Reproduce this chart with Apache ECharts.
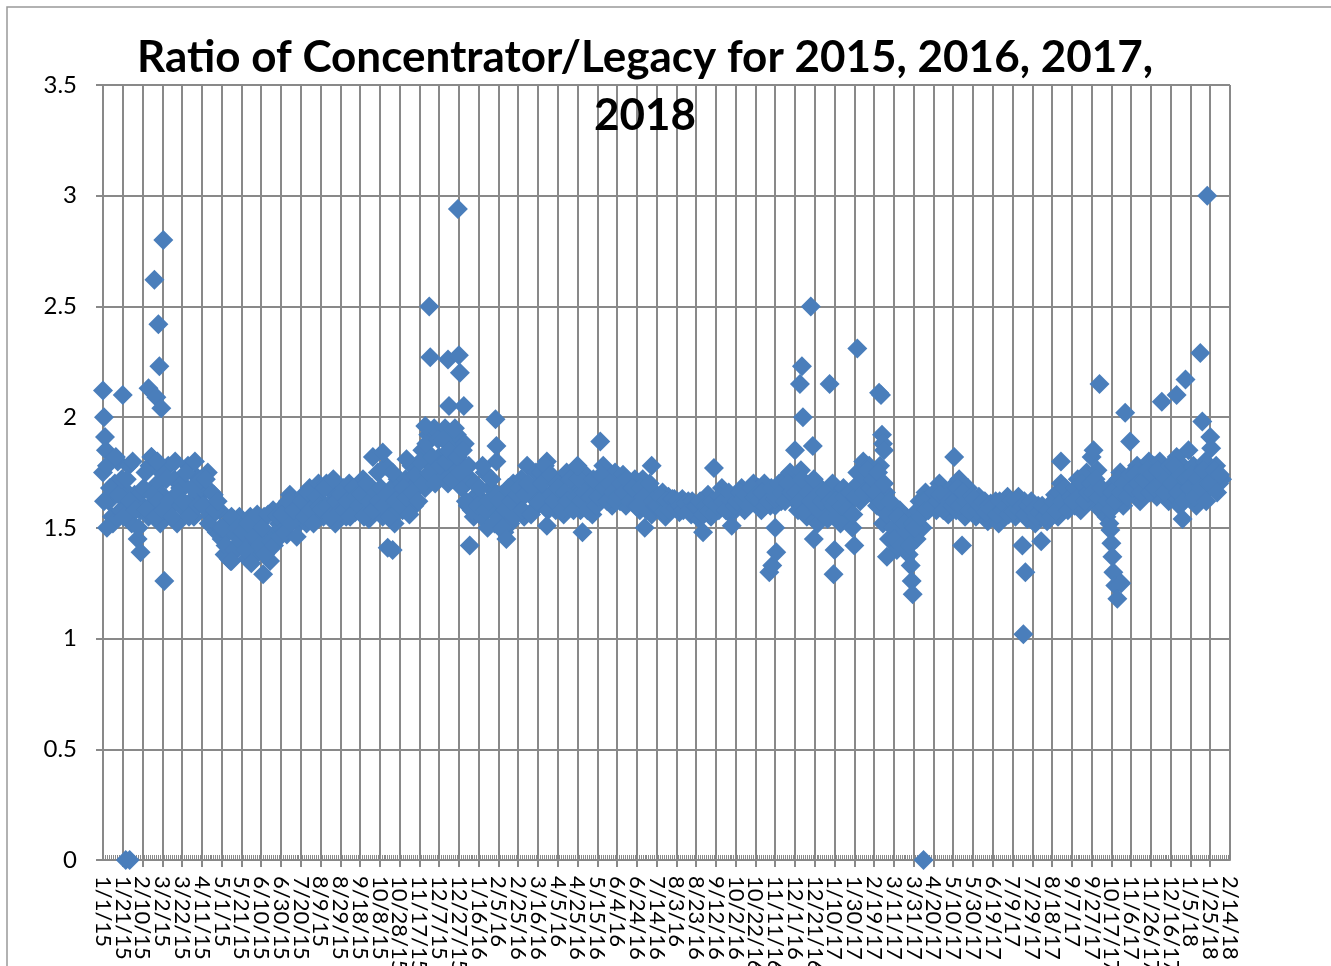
<!DOCTYPE html>
<html>
<head>
<meta charset="utf-8">
<title>Ratio of Concentrator/Legacy</title>
<script src="https://cdn.jsdelivr.net/npm/echarts@6/dist/echarts.min.js"></script>
<style>
  html, body { margin: 0; padding: 0; background: #fff; }
  #chart { width: 1331px; height: 966px; }
</style>
</head>
<body>
<div id="chart"></div>
<script>
// x tick labels, one every 20 days starting 1/1/15
const tickLabels = [
  '1/1/15', '1/21/15', '2/10/15', '3/2/15', '3/22/15', '4/11/15', '5/1/15', '5/21/15',
  '6/10/15', '6/30/15', '7/20/15', '8/9/15', '8/29/15', '9/18/15', '10/8/15', '10/28/15',
  '11/17/15', '12/7/15', '12/27/15', '1/16/16', '2/5/16', '2/25/16', '3/16/16', '4/5/16',
  '4/25/16', '5/15/16', '6/4/16', '6/24/16', '7/14/16', '8/3/16', '8/23/16', '9/12/16',
  '10/2/16', '10/22/16', '11/11/16', '12/1/16', '12/21/16', '1/10/17', '1/30/17', '2/19/17',
  '3/11/17', '3/31/17', '4/20/17', '5/10/17', '5/30/17', '6/19/17', '7/9/17', '7/29/17',
  '8/18/17', '9/7/17', '9/27/17', '10/17/17', '11/6/17', '11/26/17', '12/16/17', '1/5/18',
  '1/25/18', '2/14/18'
]

// day offset from 1/1/15 and ratio for the main cloud of readings (one row per 20 days)
const bandDays = [
  0, 3, 6, 9, 12, 15, 18,
  20, 23, 26, 29, 32, 35, 38,
  40, 43, 46, 49, 52, 55, 58,
  60, 63, 66, 69, 72, 75, 78,
  80, 83, 86, 89, 92, 95, 98,
  100, 103, 106, 109, 112, 115, 118,
  120, 123, 126, 129, 132, 135, 138,
  140, 143, 146, 149, 152, 155, 158,
  160, 163, 166, 169, 172, 175, 178,
  180, 183, 186, 189, 192, 195, 198,
  200, 203, 206, 209, 212, 215, 218,
  220, 223, 226, 229, 232, 235, 238,
  240, 243, 246, 249, 252, 255, 258,
  260, 263, 266, 269, 272, 275, 278,
  280, 283, 286, 289, 292, 295, 298,
  300, 303, 306, 309, 312, 315, 318,
  320, 323, 326, 329, 332, 335, 338,
  340, 343, 346, 349, 352, 355, 358,
  360, 363, 366, 369, 372, 375, 378,
  380, 383, 386, 389, 392, 395, 398,
  400, 403, 406, 409, 412, 415, 418,
  420, 423, 426, 429, 432, 435, 438,
  440, 443, 446, 449, 452, 455, 458,
  460, 463, 466, 469, 472, 475, 478,
  480, 483, 486, 489, 492, 495, 498,
  500, 503, 506, 509, 512, 515, 518,
  520, 523, 526, 529, 532, 535, 538,
  540, 543, 546, 549, 552, 555, 558,
  560, 563, 566, 569, 572, 575, 578,
  580, 583, 586, 589, 592, 595, 598,
  600, 603, 606, 609, 612, 615, 618,
  620, 623, 626, 629, 632, 635, 638,
  640, 643, 646, 649, 652, 655, 658,
  660, 663, 666, 669, 672, 675, 678,
  680, 683, 686, 689, 692, 695, 698,
  700, 703, 706, 709, 712, 715, 718,
  720, 723, 726, 729, 732, 735, 738,
  740, 743, 746, 749, 752, 755, 758,
  760, 763, 766, 769, 772, 775, 778,
  780, 783, 786, 789, 792, 795, 798,
  800, 803, 806, 809, 812, 815, 818,
  820, 823, 826, 829, 832, 835, 838,
  840, 843, 846, 849, 852, 855, 858,
  860, 863, 866, 869, 872, 875, 878,
  880, 883, 886, 889, 892, 895, 898,
  900, 903, 906, 909, 912, 915, 918,
  920, 923, 926, 929, 932, 935, 938,
  940, 943, 946, 949, 952, 955, 958,
  960, 963, 966, 969, 972, 975, 978,
  980, 983, 986, 989, 992, 995, 998,
  1000, 1003, 1006, 1009, 1012, 1015, 1018,
  1020, 1023, 1026, 1029, 1032, 1035, 1038,
  1040, 1043, 1046, 1049, 1052, 1055, 1058,
  1060, 1063, 1066, 1069, 1072, 1075, 1078,
  1080, 1083, 1086, 1089, 1092, 1095, 1098,
  1100, 1103, 1106, 1109, 1112, 1115, 1118,
  1120, 1123, 1126, 1129, 1132
]
const bandRatio = [
  1.75, 1.85, 1.62, 1.55, 1.70, 1.80, 1.58,
  1.68, 1.60, 1.78, 1.52, 1.65, 1.45, 1.58,
  1.60, 1.75, 1.55, 1.82, 1.62, 1.70, 1.52,
  1.65, 1.55, 1.78, 1.60, 1.72, 1.52, 1.68,
  1.70, 1.58, 1.78, 1.62, 1.55, 1.73, 1.65,
  1.68, 1.60, 1.75, 1.55, 1.65, 1.48, 1.58,
  1.45, 1.38, 1.52, 1.35, 1.48, 1.40, 1.55,
  1.42, 1.50, 1.36, 1.55, 1.45, 1.38, 1.52,
  1.40, 1.55, 1.45, 1.35, 1.58, 1.48, 1.52,
  1.50, 1.60, 1.47, 1.65, 1.55, 1.62, 1.52,
  1.58, 1.65, 1.52, 1.68, 1.60, 1.55, 1.70,
  1.62, 1.55, 1.70, 1.58, 1.66, 1.52, 1.64,
  1.60, 1.68, 1.55, 1.70, 1.62, 1.57, 1.66,
  1.58, 1.72, 1.62, 1.54, 1.68, 1.60, 1.75,
  1.62, 1.55, 1.78, 1.60, 1.68, 1.52, 1.72,
  1.65, 1.58, 1.72, 1.62, 1.78, 1.60, 1.70,
  1.72, 1.85, 1.68, 1.92, 1.78, 1.95, 1.75,
  1.82, 1.75, 1.95, 1.70, 1.88, 1.78, 1.92,
  1.80, 1.68, 1.88, 1.60, 1.72, 1.55, 1.65,
  1.62, 1.55, 1.75, 1.50, 1.68, 1.58, 1.80,
  1.55, 1.65, 1.48, 1.60, 1.52, 1.70, 1.58,
  1.60, 1.72, 1.55, 1.78, 1.65, 1.58, 1.75,
  1.68, 1.75, 1.60, 1.80, 1.65, 1.72, 1.58,
  1.62, 1.70, 1.56, 1.75, 1.60, 1.66, 1.72,
  1.65, 1.58, 1.75, 1.62, 1.70, 1.56, 1.68,
  1.70, 1.62, 1.78, 1.66, 1.72, 1.60, 1.75,
  1.68, 1.62, 1.74, 1.60, 1.70, 1.65, 1.72,
  1.65, 1.58, 1.72, 1.62, 1.68, 1.56, 1.66,
  1.62, 1.58, 1.66, 1.55, 1.64, 1.60, 1.63,
  1.60, 1.57, 1.63, 1.59, 1.62, 1.56, 1.61,
  1.58, 1.54, 1.62, 1.57, 1.65, 1.55, 1.60,
  1.62, 1.58, 1.68, 1.60, 1.65, 1.56, 1.64,
  1.64, 1.60, 1.68, 1.58, 1.66, 1.62, 1.70,
  1.62, 1.68, 1.58, 1.70, 1.64, 1.60, 1.66,
  1.60, 1.68, 1.62, 1.72, 1.65, 1.75, 1.63,
  1.70, 1.58, 1.76, 1.62, 1.55, 1.68, 1.60,
  1.60, 1.52, 1.68, 1.56, 1.65, 1.58, 1.70,
  1.58, 1.65, 1.52, 1.68, 1.55, 1.62, 1.50,
  1.68, 1.75, 1.62, 1.80, 1.70, 1.78, 1.65,
  1.72, 1.60, 1.78, 1.52, 1.66, 1.45, 1.58,
  1.50, 1.40, 1.58, 1.45, 1.55, 1.38, 1.48,
  1.55, 1.45, 1.62, 1.50, 1.66, 1.58, 1.63,
  1.62, 1.58, 1.70, 1.60, 1.66, 1.56, 1.68,
  1.65, 1.58, 1.72, 1.62, 1.55, 1.68, 1.60,
  1.60, 1.55, 1.64, 1.58, 1.62, 1.53, 1.61,
  1.58, 1.62, 1.52, 1.60, 1.55, 1.64, 1.57,
  1.60, 1.55, 1.64, 1.58, 1.62, 1.54, 1.59,
  1.56, 1.52, 1.60, 1.55, 1.58, 1.53, 1.57,
  1.58, 1.65, 1.55, 1.70, 1.60, 1.66, 1.62,
  1.65, 1.60, 1.72, 1.58, 1.68, 1.75, 1.62,
  1.70, 1.62, 1.76, 1.58, 1.65, 1.55, 1.52,
  1.62, 1.70, 1.65, 1.75, 1.60, 1.72, 1.68,
  1.72, 1.65, 1.78, 1.62, 1.75, 1.68, 1.80,
  1.70, 1.78, 1.64, 1.80, 1.68, 1.74, 1.62,
  1.75, 1.65, 1.82, 1.60, 1.78, 1.70, 1.85,
  1.68, 1.78, 1.60, 1.75, 1.65, 1.80, 1.72,
  1.75, 1.68, 1.78, 1.70, 1.72
]

// readings on the days in between
const bandDays2 = [
  1, 4, 7, 10, 13, 16, 19,
  21, 24, 27, 30, 33, 36, 39,
  41, 44, 47, 50, 53, 56, 59,
  61, 64, 67, 70, 73, 76, 79,
  81, 84, 87, 90, 93, 96, 99,
  101, 104, 107, 110, 113, 116, 119,
  121, 124, 127, 130, 133, 136, 139,
  141, 144, 147, 150, 153, 156, 159,
  161, 164, 167, 170, 173, 176, 179,
  181, 184, 187, 190, 193, 196, 199,
  201, 204, 207, 210, 213, 216, 219,
  221, 224, 227, 230, 233, 236, 239,
  241, 244, 247, 250, 253, 256, 259,
  261, 264, 267, 270, 273, 276, 279,
  281, 284, 287, 290, 293, 296, 299,
  301, 304, 307, 310, 313, 316, 319,
  321, 324, 327, 330, 333, 336, 339,
  341, 344, 347, 350, 353, 356, 359,
  361, 364, 367, 370, 373, 376, 379,
  381, 384, 387, 390, 393, 396, 399,
  401, 404, 407, 410, 413, 416, 419,
  421, 424, 427, 430, 433, 436, 439,
  441, 444, 447, 450, 453, 456, 459,
  461, 464, 467, 470, 473, 476, 479,
  481, 484, 487, 490, 493, 496, 499,
  501, 504, 507, 510, 513, 516, 519,
  521, 524, 527, 530, 533, 536, 539,
  541, 544, 547, 550, 553, 556, 559,
  561, 564, 567, 570, 573, 576, 579,
  581, 584, 587, 590, 593, 596, 599,
  601, 604, 607, 610, 613, 616, 619,
  621, 624, 627, 630, 633, 636, 639,
  641, 644, 647, 650, 653, 656, 659,
  661, 664, 667, 670, 673, 676, 679,
  681, 684, 687, 690, 693, 696, 699,
  701, 704, 707, 710, 713, 716, 719,
  721, 724, 727, 730, 733, 736, 739,
  741, 744, 747, 750, 753, 756, 759,
  761, 764, 767, 770, 773, 776, 779,
  781, 784, 787, 790, 793, 796, 799,
  801, 804, 807, 810, 813, 816, 819,
  821, 824, 827, 830, 833, 836, 839,
  841, 844, 847, 850, 853, 856, 859,
  861, 864, 867, 870, 873, 876, 879,
  881, 884, 887, 890, 893, 896, 899,
  901, 904, 907, 910, 913, 916, 919,
  921, 924, 927, 930, 933, 936, 939,
  941, 944, 947, 950, 953, 956, 959,
  961, 964, 967, 970, 973, 976, 979,
  981, 984, 987, 990, 993, 996, 999,
  1001, 1004, 1007, 1010, 1013, 1016, 1019,
  1021, 1024, 1027, 1030, 1033, 1036, 1039,
  1041, 1044, 1047, 1050, 1053, 1056, 1059,
  1061, 1064, 1067, 1070, 1073, 1076, 1079,
  1081, 1084, 1087, 1090, 1093, 1096, 1099,
  1101, 1104, 1107, 1110, 1113, 1116, 1119,
  1121, 1124, 1127, 1130
]
const bandRatio2 = [
  1.62, 1.78, 1.68, 1.52, 1.82, 1.65, 1.72,
  1.55, 1.72, 1.62, 1.80, 1.58, 1.50, 1.66,
  1.68, 1.58, 1.78, 1.65, 1.55, 1.62, 1.75,
  1.58, 1.72, 1.62, 1.55, 1.80, 1.66, 1.60,
  1.62, 1.75, 1.55, 1.68, 1.80, 1.60, 1.72,
  1.60, 1.72, 1.52, 1.66, 1.58, 1.62, 1.50,
  1.50, 1.42, 1.36, 1.55, 1.40, 1.50, 1.44,
  1.48, 1.40, 1.52, 1.34, 1.46, 1.56, 1.42,
  1.50, 1.38, 1.56, 1.44, 1.42, 1.55, 1.46,
  1.56, 1.48, 1.62, 1.52, 1.58, 1.46, 1.60,
  1.62, 1.55, 1.66, 1.58, 1.52, 1.64, 1.60,
  1.58, 1.68, 1.60, 1.55, 1.72, 1.62, 1.57,
  1.65, 1.58, 1.62, 1.55, 1.68, 1.64, 1.60,
  1.65, 1.55, 1.70, 1.62, 1.58, 1.66, 1.62,
  1.68, 1.60, 1.65, 1.55, 1.75, 1.62, 1.58,
  1.60, 1.68, 1.64, 1.56, 1.66, 1.74, 1.62,
  1.80, 1.70, 1.88, 1.75, 1.82, 1.70, 1.90,
  1.78, 1.90, 1.80, 1.85, 1.72, 1.95, 1.82,
  1.75, 1.85, 1.62, 1.78, 1.58, 1.70, 1.60,
  1.68, 1.78, 1.58, 1.62, 1.72, 1.52, 1.65,
  1.62, 1.50, 1.58, 1.68, 1.62, 1.55, 1.65,
  1.68, 1.58, 1.65, 1.70, 1.56, 1.68, 1.62,
  1.62, 1.70, 1.78, 1.58, 1.74, 1.62, 1.70,
  1.68, 1.58, 1.66, 1.62, 1.72, 1.58, 1.64,
  1.72, 1.62, 1.66, 1.58, 1.64, 1.72, 1.60,
  1.64, 1.74, 1.68, 1.62, 1.70, 1.66, 1.62,
  1.64, 1.70, 1.66, 1.72, 1.62, 1.68, 1.60,
  1.60, 1.68, 1.64, 1.58, 1.70, 1.62, 1.60,
  1.60, 1.64, 1.57, 1.62, 1.58, 1.63, 1.59,
  1.62, 1.60, 1.58, 1.61, 1.58, 1.62, 1.60,
  1.60, 1.62, 1.56, 1.60, 1.58, 1.62, 1.57,
  1.60, 1.64, 1.62, 1.58, 1.66, 1.62, 1.60,
  1.62, 1.66, 1.63, 1.65, 1.60, 1.68, 1.64,
  1.65, 1.62, 1.66, 1.60, 1.62, 1.68, 1.63,
  1.64, 1.70, 1.66, 1.62, 1.70, 1.66, 1.68,
  1.66, 1.62, 1.72, 1.58, 1.66, 1.62, 1.72,
  1.64, 1.58, 1.62, 1.66, 1.54, 1.62, 1.60,
  1.62, 1.56, 1.60, 1.64, 1.58, 1.66, 1.56,
  1.64, 1.70, 1.74, 1.66, 1.76, 1.68, 1.72,
  1.66, 1.75, 1.62, 1.70, 1.56, 1.62, 1.50,
  1.45, 1.55, 1.42, 1.52, 1.48, 1.42, 1.52,
  1.50, 1.58, 1.55, 1.62, 1.58, 1.64, 1.60,
  1.66, 1.62, 1.65, 1.58, 1.64, 1.62, 1.60,
  1.62, 1.68, 1.60, 1.66, 1.62, 1.58, 1.64,
  1.63, 1.58, 1.60, 1.62, 1.57, 1.60, 1.58,
  1.60, 1.56, 1.62, 1.58, 1.60, 1.56, 1.62,
  1.57, 1.62, 1.58, 1.60, 1.56, 1.60, 1.62,
  1.58, 1.55, 1.57, 1.60, 1.55, 1.58, 1.55,
  1.62, 1.58, 1.66, 1.62, 1.68, 1.58, 1.64,
  1.62, 1.68, 1.64, 1.70, 1.62, 1.66, 1.70,
  1.66, 1.72, 1.64, 1.68, 1.60, 1.62, 1.58,
  1.66, 1.62, 1.72, 1.66, 1.70, 1.64, 1.74,
  1.68, 1.74, 1.70, 1.66, 1.72, 1.76, 1.66,
  1.74, 1.68, 1.76, 1.70, 1.66, 1.72, 1.78,
  1.70, 1.78, 1.66, 1.74, 1.62, 1.72, 1.68,
  1.74, 1.64, 1.72, 1.68, 1.76, 1.62, 1.70,
  1.70, 1.76, 1.66, 1.74
]

// isolated readings away from the cloud
const spikeDays = [
  0, 1, 2, 4, 20, 23, 27, 38, 46, 49, 52, 54, 55, 56, 57, 59, 61, 62,
  130, 162, 273, 283, 288, 293, 307,
  326, 330, 331, 349, 350, 359, 360, 361, 365, 371, 397, 398, 408, 449,
  480, 485, 503, 548, 555, 607, 618, 636, 674, 677, 680, 681,
  700, 705, 707, 708, 716, 718, 719, 735, 739, 740, 760, 763,
  785, 787, 788, 789, 790, 793, 817, 818, 819, 830, 861, 869,
  930, 931, 933, 949, 969, 1000, 1002, 1008, 1019, 1020, 1021, 1022, 1024, 1026, 1030,
  1034, 1039, 1071, 1086, 1092, 1095, 1110, 1112, 1117, 1120, 1121
]
const spikeRatio = [
  2.12, 2.00, 1.91, 1.50, 2.10, 0, 0, 1.39, 2.13, 1.82, 2.62, 2.09, 1.80, 2.42, 2.23, 2.04, 2.80, 1.26,
  1.35, 1.29, 1.82, 1.84, 1.41, 1.40, 1.81,
  1.96, 2.50, 2.27, 2.26, 2.05, 2.94, 2.28, 2.20, 2.05, 1.42, 1.99, 1.87, 1.45, 1.51,
  1.78, 1.48, 1.89, 1.50, 1.78, 1.48, 1.77, 1.51, 1.30, 1.33, 1.50, 1.39,
  1.85, 2.15, 2.23, 2.00, 2.50, 1.87, 1.45, 2.15, 1.29, 1.40, 1.42, 2.31,
  2.11, 2.10, 1.92, 1.88, 1.85, 1.37, 1.33, 1.26, 1.20, 0, 1.82, 1.42,
  1.42, 1.02, 1.30, 1.44, 1.80, 1.82, 1.85, 2.15, 1.49, 1.43, 1.37, 1.30, 1.24, 1.18, 1.25,
  2.02, 1.89, 2.07, 2.10, 1.54, 2.17, 2.29, 1.98, 3.00, 1.91, 1.86
]

const gridGray = '#898989'
const markerBlue = '#4A7EBB'
const dayMin = 0
const dayMax = 1140

const points = bandDays.map((d, i) => [d, bandRatio[i]])
  .concat(bandDays2.map((d, i) => [d, bandRatio2[i]]))
  .concat(spikeDays.map((d, i) => [d, spikeRatio[i]]))

const labelStyle = {
  rotate: -90,
  margin: 16,
  hideOverlap: false,
  fontFamily: 'Lato',
  fontSize: 22,
  color: '#000'
}

const chart = echarts.init(document.getElementById('chart'))

const option = {
  backgroundColor: '#fff',
  animation: false,
  title: {
    text: 'Ratio of Concentrator/Legacy for 2015, 2016, 2017,\n2018',
    left: 640,
    top: 24,
    textAlign: 'center',
    textStyle: {
      fontFamily: 'Lato',
      fontWeight: 'bold',
      fontSize: 44,
      lineHeight: 58,
      color: '#000'
    }
  },
  graphic: [
    {
      type: 'rect',
      shape: { x: 7, y: 7, width: 1340, height: 980 },
      style: { fill: 'none', stroke: '#999', lineWidth: 1.5 },
      silent: true
    }
  ],
  grid: {
    left: 103,
    right: 101,
    top: 85,
    bottom: 106,
    containLabel: false,
    outerBoundsMode: 'none'
  },
  xAxis: [
    {
      // inner date labels, gridlines and outward major ticks
      type: 'value',
      min: dayMin,
      max: dayMax,
      interval: 20,
      axisLine: { show: true, lineStyle: { color: gridGray, width: 2 } },
      axisTick: { show: true, length: 7, lineStyle: { color: gridGray, width: 2 } },
      splitLine: { show: true, lineStyle: { color: gridGray, width: 2 } },
      axisLabel: Object.assign({}, labelStyle, {
        showMinLabel: false,
        showMaxLabel: false,
        formatter: (v) => tickLabels[Math.round(v / 20)] || ''
      })
    },
    {
      // first / last date labels and inward minor ticks
      type: 'value',
      min: dayMin,
      max: dayMax,
      interval: 20,
      position: 'bottom',
      axisLine: { show: false },
      axisTick: { show: false, inside: true },
      minorTick: { show: true, splitNumber: 10, length: 5, lineStyle: { color: gridGray, width: 1 } },
      splitLine: { show: false },
      axisLabel: Object.assign({}, labelStyle, {
        showMinLabel: true,
        showMaxLabel: true,
        formatter: (v) => (v === dayMin || v === dayMax) ? tickLabels[Math.round(v / 20)] : ''
      })
    }
  ],
  yAxis: {
    type: 'value',
    min: 0,
    max: 3.5,
    interval: 0.5,
    axisLine: { show: true, lineStyle: { color: gridGray, width: 2 } },
    axisTick: { show: true, length: 7, lineStyle: { color: gridGray, width: 2 } },
    splitLine: { show: true, lineStyle: { color: gridGray, width: 2 } },
    axisLabel: {
      margin: 26,
      fontFamily: 'Lato',
      fontSize: 24,
      color: '#000'
    }
  },
  series: [
    {
      name: 'Ratio',
      type: 'scatter',
      xAxisIndex: 0,
      symbol: 'diamond',
      symbolSize: 20,
      itemStyle: { color: markerBlue, opacity: 1 },
      data: points
    }
  ]
}

chart.setOption(option)
</script>
</body>
</html>
